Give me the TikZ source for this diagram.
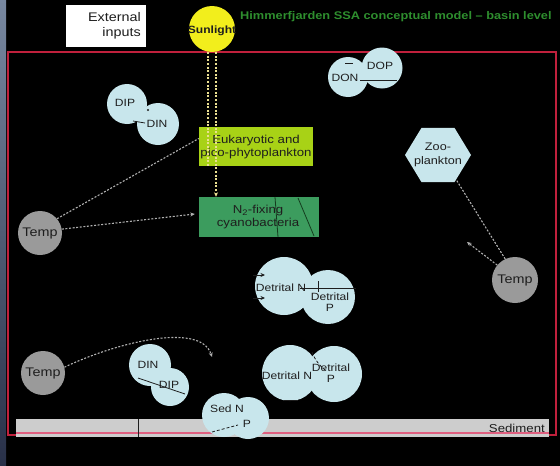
\documentclass[tikz,border=0pt]{standalone}
\usepackage{fontspec}
\setmainfont[FakeStretch=1.15]{Liberation Sans}
\usetikzlibrary{shapes.geometric,arrows.meta}

\definecolor{poolcyan}{HTML}{C8E6EC}
\definecolor{tempgray}{HTML}{9A9A9A}
\definecolor{sunyellow}{HTML}{F2EE1C}
\definecolor{eukgreen}{HTML}{A8D216}
\definecolor{cyangreen}{HTML}{3C9C5E}
\definecolor{titlegreen}{HTML}{2E8E2E}
\definecolor{framered}{HTML}{C0203C}
\definecolor{sedgray}{HTML}{CDCDCD}
\definecolor{sedpink}{HTML}{E06080}
\definecolor{raycream}{HTML}{EADF90}
\definecolor{linkgray}{HTML}{B0B0B0}
\definecolor{ink}{HTML}{1E1E1E}
\definecolor{darkgreenline}{HTML}{143C1E}

\begin{document}
\begin{tikzpicture}[x=1pt,y=-1pt,
  pool/.style={circle, fill=poolcyan, minimum size=#1, inner sep=0pt},
  tempnode/.style={circle, fill=tempgray, minimum size=#1, inner sep=0pt,
    text=ink, font=\fontsize{12.5}{13}\selectfont},
  lbl/.style={inner sep=0pt, align=center, text=ink, font=\fontsize{10.5}{11.5}\selectfont},
  boxlbl/.style={inner sep=0pt, align=center, text=ink, font=\fontsize{11.5}{13.5}\selectfont},
  link/.style={draw=linkgray, line width=1.1pt, dash pattern=on 2pt off 1.6pt},
  ray/.style={draw=raycream, line width=1.5pt, dash pattern=on 2pt off 1.6pt},
  flow/.style={draw=ink, line width=0.8pt},
  tip/.style={-{Stealth[length=4.5pt,width=4pt]}}
]
\useasboundingbox (0,0) rectangle (560,466);
\fill[black] (0,0) rectangle (560,466);
\shade[top color={rgb,255:red,120;green,136;blue,160}, middle color=white,
  bottom color={rgb,255:red,40;green,48;blue,72}] (0,0) rectangle (6,466);

% basin frame and sediment layer
\draw[framered, line width=1.8pt] (8,52) rectangle (556,435);
\fill[sedgray] (16,419) rectangle (549,437);
\draw[sedpink, line width=1.2pt] (16,433) -- (549,433);
\draw[ink, line width=0.8pt] (138,419) -- (138,437);
\node[anchor=east, inner sep=0pt, text=ink, font=\fontsize{11.5}{12}\selectfont]
  (sedlbl) at (545,428) {Sediment};

% header
\node[fill=white, minimum width=80pt, minimum height=42pt, inner sep=0pt]
  (extbox) at (106,26) {};
\node[anchor=east, align=right, inner sep=0pt, text=ink,
  font=\fontsize{12.5}{15.5}\selectfont] (extlbl) at (141,26) {External\\inputs};
\node[anchor=west, inner sep=0pt, text=titlegreen,
  font=\bfseries\fontsize{11.1}{13}\selectfont] (title) at (240,17)
  {Himmerfjarden SSA conceptual model – basin level};
\node[circle, fill=sunyellow, minimum size=46pt, inner sep=0pt] (sun) at (212,29) {};
\node[lbl, font=\bfseries\fontsize{10.5}{12}\selectfont] (sunlbl) at (212,31) {Sunlight};

% phytoplankton groups
\node[fill=eukgreen, minimum width=114pt, minimum height=39pt, inner sep=0pt]
  (euk) at (256,146.5) {};
\node[boxlbl] (euklbl) at (256,147) {Eukaryotic and\\pico-phytoplankton};
\node[fill=cyangreen, minimum width=120pt, minimum height=40pt, inner sep=0pt]
  (cya) at (259,217) {};
\node[boxlbl] (cyalbl) at (258,217) {N\textsubscript{2}-fixing\\cyanobacteria};
\draw[flow, draw=darkgreenline] (275,197) -- (278,237);
\draw[flow, draw=darkgreenline] (298,198) -- (314,236);

% light supply
\draw[ray] ([xshift=-4pt]sun.south) -- ([xshift=-4pt]sun.south |- euk.south);
\draw[ray, tip] ([xshift=4pt]sun.south) -- ([xshift=4pt]sun.south |- cya.north);

% dissolved pools, upper
\node[pool=40pt] (dip1) at (127,104) {};
\node[pool=42pt] (din1) at (158,124) {};
\node[lbl] (dip1lbl) at (125,103) {DIP};
\node[lbl] (din1lbl) at (157,124) {DIN};
\draw[flow] (133,121) -- (145,123);
\fill[ink] (148,110) circle (1.2pt);

\node[pool=40pt] (don) at (348,77) {};
\node[pool=41pt] (dop) at (382,68) {};
\node[lbl] (donlbl) at (345,78) {DON};
\node[lbl] (doplbl) at (380,66) {DOP};
\draw[flow] (360,80) -- (397,80);
\draw[flow] (345,63) -- (353,63);

% zooplankton
\node[regular polygon, regular polygon sides=6, fill=poolcyan, minimum size=66pt,
  inner sep=0pt, yscale=0.95] (zoo) at (438,155) {};
\node[lbl, font=\fontsize{11}{14}\selectfont] (zoolbl) at (438,155) {Zoo-\\plankton};

% temperature drivers
\node[tempnode=44pt] (templ) at (40,233) {Temp};
\node[tempnode=44pt] (tempb) at (43,373) {Temp};
\node[tempnode=46pt] (tempr) at (515,280) {Temp};

\draw[link] (templ.40) -- ([yshift=8pt]euk.west);
\draw[link, tip] (templ.10) -- ([xshift=-4pt,yshift=3pt]cya.west);
\coordinate (curveend) at (212,357);
\draw[link, tip] (tempb.15) .. controls (110,345) and (200,320) .. (curveend);
\draw[link] (tempr.115) -- (zoo.-55);
\coordinate (zooret) at (467,242);
\draw[link, tip] (tempr.140) -- (zooret);

% detritus pools
\node[pool=58pt] (detn1) at (284,286) {};
\node[pool=54pt] (detp1) at (328,297) {};
\node[lbl] (detn1lbl) at (281,288) {Detrital N};
\node[lbl] (detp1lbl) at (330,302) {Detrital\\P};
\draw[flow] (300,288) -- (356,288);
\draw[flow] (318,281) -- (318,292);
\draw[flow, tip] (253,275) -- (265,275);
\draw[flow, tip] (253,298) -- (265,298);

\node[pool=56pt] (detn2) at (290,373) {};
\node[pool=56pt] (detp2) at (334,374) {};
\node[lbl] (detn2lbl) at (287,376) {Detrital N};
\node[lbl] (detp2lbl) at (331,373) {Detrital\\P};
\draw[flow, dash pattern=on 3pt off 2pt] (312,352) arc[start angle=200, end angle=235, radius=40pt];
\draw[flow] (284,400) -- (298,400);

% near-bottom nutrients and sediment pools
\node[pool=42pt] (din2) at (150,365) {};
\node[pool=38pt] (dip2) at (170,387) {};
\node[lbl] (din2lbl) at (148,365) {DIN};
\node[lbl] (dip2lbl) at (169,385) {DIP};
\draw[flow] (138,378) -- (185,394);

\node[pool=44pt] (sedn) at (224,415) {};
\node[pool=42pt] (sedp) at (248,418) {};
\node[lbl] (sednlbl) at (227,409) {Sed N};
\node[lbl] (sedplbl) at (247,424) {P};
\draw[flow, dash pattern=on 3pt off 2pt] (212,432) -- (238,425);
\end{tikzpicture}
\end{document}
